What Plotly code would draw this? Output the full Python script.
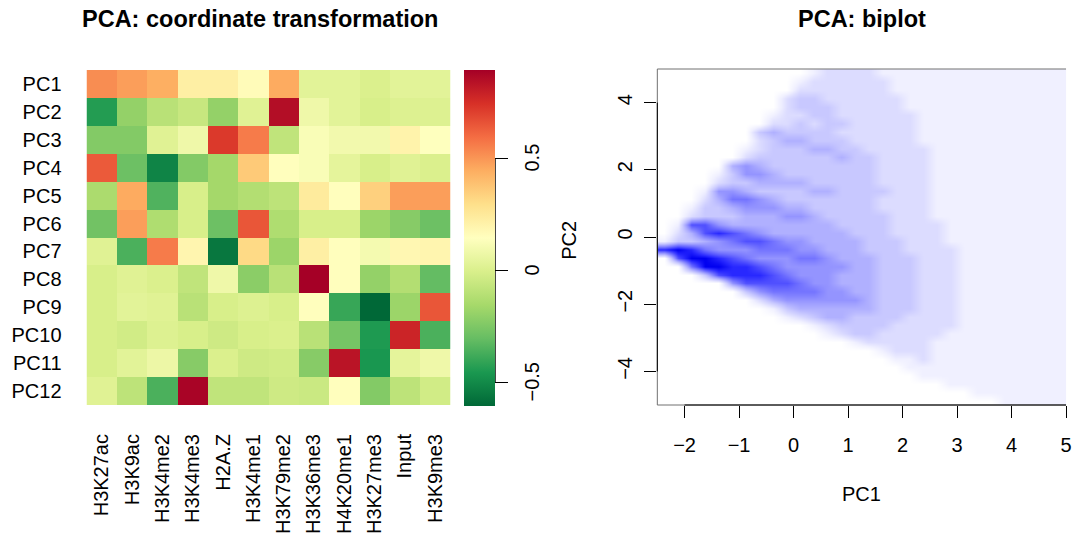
import plotly.graph_objects as go

W, H = 1078, 534
FONT = "Liberation Sans, Arial, Helvetica, sans-serif"

# ---------------- data: PCA loadings (coordinate transformation) ----------------
pcs = ["PC1", "PC2", "PC3", "PC4", "PC5", "PC6", "PC7", "PC8", "PC9", "PC10", "PC11", "PC12"]
marks = ["H3K27ac", "H3K9ac", "H3K4me2", "H3K4me3", "H2A.Z", "H3K4me1", "H3K79me2",
         "H3K36me3", "H4K20me1", "H3K27me3", "Input", "H3K9me3"]

pc1 = [0.52, 0.48, 0.44, 0.22, 0.22, 0.16, 0.45, 0.03, 0.03, 0.00, 0.03, 0.03]
pc2 = [-0.44, -0.20, -0.10, -0.06, -0.20, 0.02, 0.85, 0.08, 0.03, -0.01, 0.01, 0.01]
pc3 = [-0.24, -0.24, 0.02, 0.08, 0.72, 0.56, -0.08, 0.12, 0.09, 0.09, 0.20, 0.14]
pc4 = [0.64, -0.29, -0.52, -0.24, -0.16, 0.36, 0.15, 0.12, 0.04, -0.01, 0.02, 0.00]
pc5 = [-0.14, 0.45, -0.35, -0.01, -0.16, -0.12, -0.09, 0.24, 0.15, 0.34, 0.48, 0.48]
pc6 = [-0.28, 0.48, -0.13, -0.01, -0.29, 0.65, -0.13, -0.01, -0.01, -0.18, -0.23, -0.29]
pc7 = [0.02, -0.36, 0.56, 0.19, -0.56, 0.31, -0.18, 0.22, 0.15, 0.10, 0.18, 0.19]
pc8 = [-0.01, 0.02, 0.00, -0.08, 0.08, -0.22, -0.10, 0.893, 0.15, -0.20, -0.12, -0.31]
pc9 = [-0.01, 0.03, 0.02, -0.10, -0.01, 0.01, -0.01, 0.15, -0.40, -0.607, -0.18, 0.65]
pc10 = [-0.01, -0.03, 0.01, -0.01, -0.04, -0.01, 0.00, -0.10, -0.27, -0.45, 0.78, -0.36]
pc11 = [-0.01, 0.03, 0.07, -0.23, 0.00, -0.04, -0.03, -0.23, 0.83, -0.46, 0.04, 0.08]
pc12 = [0.02, -0.09, -0.36, 0.88, -0.08, -0.08, -0.04, -0.05, 0.15, -0.24, -0.09, -0.03]
loadings = [pc1, pc2, pc3, pc4, pc5, pc6, pc7, pc8, pc9, pc10, pc11, pc12]

cbar_ticks = [-0.5, 0, 0.5]
cbar_labels = ["\u22120.5", "0", "0.5"]

# ---------------- data: biplot density (levels 0-9, rows from PC2=+5 down to -5) ----------------
bip_x0, bip_dx = -2.375, 0.25      # bin centres along PC1
bip_y_top, bip_dy = 4.875, 0.25    # bin centres along PC2 (top row first)
density_rows = [
    "000000000001222211111111111111",
    "000000000012222221111111111111",
    "000000000022222221111111111111",
    "000000000233222222111111111111",
    "000000000233322222111111111111",
    "000000001223322222211111111111",
    "000000002232332222211111111111",
    "000000034333322222211111111111",
    "000000023443332222211111111111",
    "000000123334433222221111111111",
    "000000233333343322221111111111",
    "000004543333333322221111111111",
    "000013554333333322221111111111",
    "000023344443333322221111111111",
    "000155433334433332221111111111",
    "000246654333333322221111111111",
    "001334555443333322221111111111",
    "002333444554333332221111111111",
    "017754444444433332222111111111",
    "024787654444443332222111111111",
    "133456776554444333222111111111",
    "898655566655444333222211111111",
    "079987655566544433322211111111",
    "006998876555554433322211111111",
    "000378887655544433322211111111",
    "000005777765544433322211111111",
    "000000356666554433322211111111",
    "000000024555555433322211111111",
    "000000001344444433322211111111",
    "000000000123443333222211111111",
    "000000000001233332222211111111",
    "000000000000123322222111111111",
    "000000000000001222221111111111",
    "000000000000000012221111111111",
    "000000000000000001121111111111",
    "000000000000000000111111111111",
    "000000000000000000011111111111",
    "000000000000000000000111111111",
    "000000000000000000000001111111",
    "000000000000000000000000011111",
]
bip_xticks = [-2, -1, 0, 1, 2, 3, 4, 5]
bip_yticks = [-4, -2, 0, 2, 4]
bip_xrange = [-2.5, 5]
bip_yrange = [-5, 5]

# ---------------- styles ----------------
rdylgn = ["#a50026", "#d73027", "#f46d43", "#fdae61", "#fee08b", "#ffffbf",
          "#d9ef8b", "#a6d96a", "#66bd63", "#1a9850", "#006837"][::-1]
heat_cs = [[i / 10, c] for i, c in enumerate(rdylgn)]
blues = ["#ffffff", "#f0f0ff", "#dcdcff", "#c8c8ff", "#b0b0ff", "#9494ff",
         "#7474ff", "#5050ff", "#2828ff", "#0000f0"]
dens_cs = [[i / 9, c] for i, c in enumerate(blues)]

# pixel layout (window pixels)
hm_l, hm_r, hm_t, hm_b = 87, 453, 70, 405
bp_l, bp_r, bp_t, bp_b = 661, 1072, 69, 405
cb_l, cb_w, cb_t, cb_b = 467, 31, 70, 406


def px(x):
    return x / W


def py(y):
    return 1 - y / H


zmin = min(min(r) for r in loadings)
zmax = max(max(r) for r in loadings)

fig = go.Figure()

fig.add_trace(go.Heatmap(
    z=loadings, x=marks, y=pcs, colorscale=heat_cs, zmin=zmin, zmax=zmax,
    xaxis="x", yaxis="y", hoverinfo="skip",
    colorbar=dict(
        x=px(cb_l), xanchor="left", xpad=0, ypad=0,
        y=py(cb_b), yanchor="bottom", len=cb_b - cb_t, lenmode="pixels",
        thickness=cb_w, thicknessmode="pixels", outlinewidth=0,
        tickvals=cbar_ticks, showticklabels=False,
        ticks="outside", ticklen=13, tickwidth=1, tickcolor="black",
    ),
))

dens = [[int(ch) for ch in row] for row in density_rows[::-1]]
fig.add_trace(go.Heatmap(
    z=dens, x0=bip_x0, dx=bip_dx, y0=bip_y_top - bip_dy * (len(density_rows) - 1), dy=bip_dy,
    colorscale=dens_cs, zmin=0, zmax=9, showscale=False, zsmooth="best",
    xaxis="x2", yaxis="y2", hoverinfo="skip",
))

fig.update_layout(
    width=W, height=H, autosize=False,
    margin=dict(l=0, r=0, t=0, b=0),
    paper_bgcolor="white", plot_bgcolor="white",
    font=dict(family=FONT, size=20, color="black"),
    showlegend=False,
    xaxis=dict(domain=[px(hm_l), px(hm_r)], anchor="y", showgrid=False, zeroline=False,
               showline=False, ticks="", tickangle=-90, ticklabelstandoff=24,
               tickfont=dict(size=20)),
    yaxis=dict(domain=[py(hm_b), py(hm_t)], anchor="x", showgrid=False, zeroline=False,
               showline=False, ticks="", autorange="reversed", ticklabelstandoff=24,
               tickfont=dict(size=20)),
    xaxis2=dict(domain=[px(bp_l), px(bp_r)], anchor="y2", range=bip_xrange, showgrid=False,
                zeroline=False, showline=False, tickvals=bip_xticks, ticks="outside",
                ticklen=12, tickcolor="black", tickwidth=1, ticklabelstandoff=10,
                tickfont=dict(size=20)),
    yaxis2=dict(domain=[py(bp_b), py(bp_t)], anchor="x2", range=bip_yrange, showgrid=False,
                zeroline=False, showline=False, tickvals=bip_yticks, ticks="outside",
                ticklen=12, tickcolor="black", tickwidth=1, tickangle=-90,
                ticklabelstandoff=4, tickfont=dict(size=20)),
)


# data -> paper helpers
def bx(v):
    return px(bp_l + (v - bip_xrange[0]) / (bip_xrange[1] - bip_xrange[0]) * (bp_r - bp_l))


def by(v):
    return py(bp_b - (v - bip_yrange[0]) / (bip_yrange[1] - bip_yrange[0]) * (bp_b - bp_t))


def cby(v):
    return py(cb_b - (v - zmin) / (zmax - zmin) * (cb_b - cb_t))


shapes = []
gray = "#707070"
# biplot frame (top, left, bottom) in gray
shapes.append(dict(type="line", xref="paper", yref="paper", x0=px(bp_l), x1=px(bp_r),
                   y0=py(bp_t), y1=py(bp_t), line=dict(color=gray, width=1)))
shapes.append(dict(type="line", xref="paper", yref="paper", x0=px(bp_l), x1=px(bp_l),
                   y0=py(bp_t), y1=py(bp_b), line=dict(color=gray, width=1)))
shapes.append(dict(type="line", xref="paper", yref="paper", x0=px(bp_l), x1=px(bp_r),
                   y0=py(bp_b), y1=py(bp_b), line=dict(color=gray, width=1)))
# axis lines between first and last tick
shapes.append(dict(type="line", xref="paper", yref="paper", x0=bx(bip_xticks[0]), x1=bx(bip_xticks[-1]),
                   y0=py(bp_b), y1=py(bp_b), line=dict(color="black", width=1)))
shapes.append(dict(type="line", xref="paper", yref="paper", x0=px(bp_l), x1=px(bp_l),
                   y0=by(bip_yticks[0]), y1=by(bip_yticks[-1]), line=dict(color="black", width=1)))
# colour key axis line
shapes.append(dict(type="line", xref="paper", yref="paper", x0=px(cb_l + cb_w), x1=px(cb_l + cb_w),
                   y0=cby(cbar_ticks[0]), y1=cby(cbar_ticks[-1]), line=dict(color="black", width=1)))
fig.update_layout(shapes=shapes)

ann = [
    dict(text="<b>PCA: coordinate transformation</b>", x=px(261), y=py(19),
         font=dict(size=23.5)),
    dict(text="<b>PCA: biplot</b>", x=px((bp_l + bp_r) / 2), y=py(19), font=dict(size=23.5)),
    dict(text="PC1", x=px((bp_l + bp_r) / 2), y=py(494), font=dict(size=20)),
    dict(text="PC2", x=px(572), y=py(240), textangle=-90, font=dict(size=20)),
]
for v, lab in zip(cbar_ticks, cbar_labels):
    ann.append(dict(text=lab, x=px(535.5), y=cby(v), textangle=-90, font=dict(size=20)))
for a in ann:
    a.update(xref="paper", yref="paper", showarrow=False, xanchor="center", yanchor="middle")
fig.update_layout(annotations=ann)

# remove the browser's default 8px page margin so the figure fills the window exactly
fig.write_html("out.html", config={"displayModeBar": False, "staticPlot": True},
               post_script="document.body.style.margin='0px';")
